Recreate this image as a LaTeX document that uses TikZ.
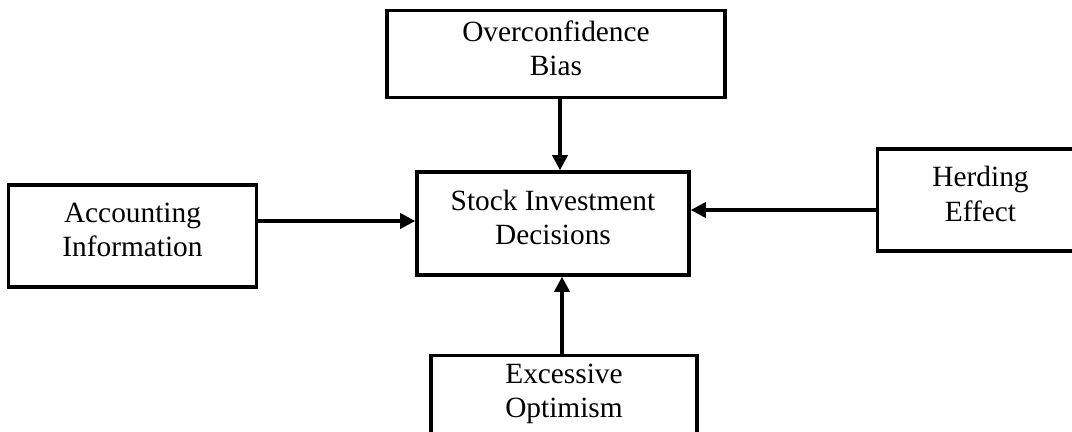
\documentclass[tikz,border=0pt]{standalone}
\usepackage{fontspec}
\setmainfont{Liberation Serif}
\usetikzlibrary{arrows.meta,positioning,calc}
\tikzstyle{flow} = [-{Triangle[length=0.3cm,width=0.3cm]},line width=2pt]
\tikzset{
  basic box/.style = {
    shape = rectangle,
    draw,
    line width=2pt,
    align=center,
    inner sep=0pt,
    text depth=7pt,
    font=\fontsize{16.7}{19.5}\selectfont,
    },
  factor box/.style n args={2}{
    basic box,
    minimum width=#1,
    minimum height=#2,
  },
}
\begin{document}
\begin{tikzpicture}
    \useasboundingbox (0,0) rectangle (21.44,-8.64);

    % central box
    \node [factor box={5.44cm}{2.06cm}] (stock) at (11.06,-4.47) {Stock Investment\\Decisions};

    % influencing factors
    \node [factor box={6.76cm}{1.74cm}, above=1.42cm of stock, xshift=.06cm] (over) {Overconfidence\\Bias};
    \node [factor box={4.96cm}{2.04cm}, left=3.14cm of stock, yshift=-.25cm] (acc) {Accounting\\Information};
    \node [factor box={4.12cm}{2.04cm}, right=3.7cm of stock, yshift=.47cm] (herd) {Herding\\Effect};
    \node [factor box={5.32cm}{2.0cm}, below=1.54cm of stock, xshift=.22cm, text depth=17pt] (exc) {Excessive\\Optimism};

    % Paths
    \draw[flow] ([xshift=.08cm]over.south) -- ([xshift=.08cm]over.south |- stock.north);
    \draw[flow] ([yshift=.3cm]acc.east) -- ([yshift=.3cm]acc.east -| stock.west);
    \draw[flow] ([yshift=-.2cm]herd.west) -- ([yshift=-.2cm]herd.west -| stock.east);
    \draw[flow] ([xshift=-.04cm]exc.north) -- ([xshift=-.04cm]exc.north |- stock.south);
\end{tikzpicture}
\end{document}
